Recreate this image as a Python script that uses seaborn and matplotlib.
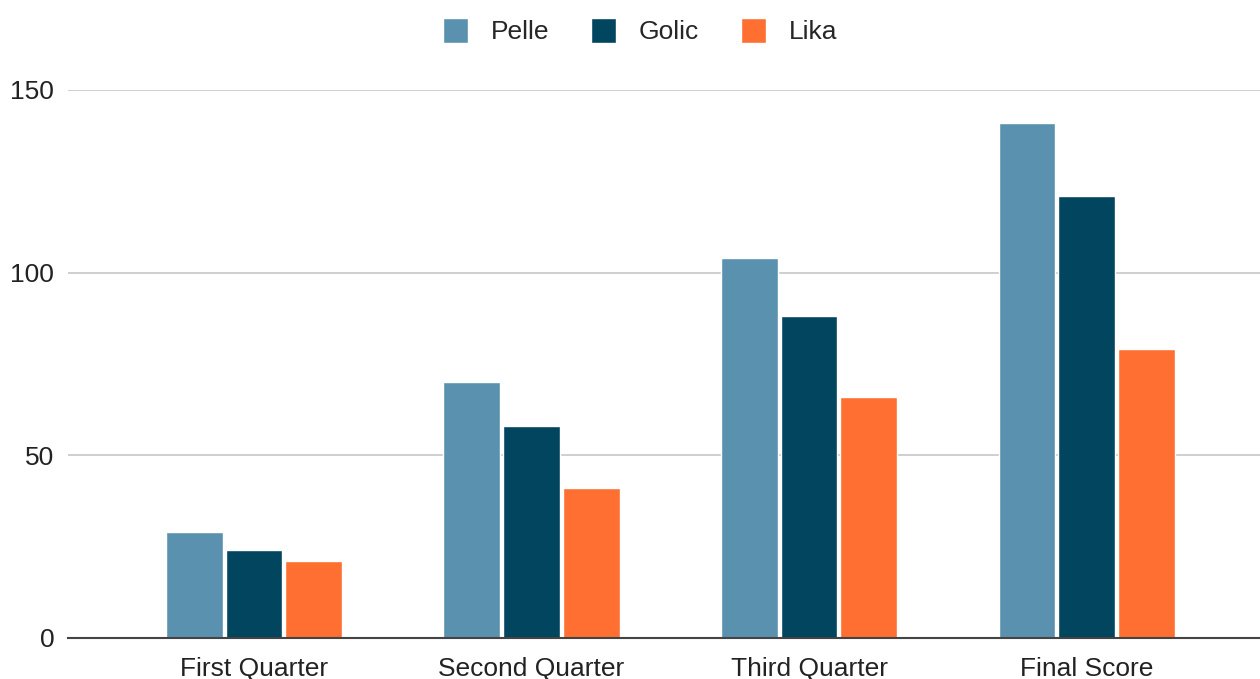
import pandas as pd
import matplotlib.pyplot as plt
import seaborn as sns

# data
categories = ["First Quarter", "Second Quarter", "Third Quarter", "Final Score"]
pelle = [29, 70, 104, 141]
golic = [24, 58, 88, 121]
lika = [21, 41, 66, 79]
players = ["Pelle", "Golic", "Lika"]
colors = ["#5a91af", "#01455f", "#ff6f31"]

df = pd.DataFrame({
    "quarter": categories * 3,
    "player": ["Pelle"] * 4 + ["Golic"] * 4 + ["Lika"] * 4,
    "score": pelle + golic + lika,
})

sns.set_theme(style="white")
plt.rcParams["font.family"] = ["Liberation Sans", "DejaVu Sans"]

fig = plt.figure(figsize=(12.6, 6.79), dpi=100)
ax = fig.add_axes([0.054, 0.0604, 0.946, 0.8071])

sns.barplot(data=df, x="quarter", y="score", hue="player", hue_order=players,
            palette=colors, width=0.645, gap=0.05, saturation=1, ax=ax)

ax.set_ylim(0, 150)
ax.set_xlim(-0.67, 3.625)
ax.set_yticks([0, 50, 100, 150])
ax.grid(axis="y", color="#cccccc", linewidth=1.3)
ax.set_axisbelow(True)
for s in ["top", "right", "left"]:
    ax.spines[s].set_visible(False)
ax.spines["bottom"].set_color("#444444")
ax.spines["bottom"].set_linewidth(1.5)
ax.spines["bottom"].set_zorder(5)
ax.tick_params(axis="both", length=0, labelsize=19, colors="#222222")
ax.tick_params(axis="y", pad=10)
ax.tick_params(axis="x", pad=14)
ax.set_xlabel("")
ax.set_ylabel("")

ax.legend(loc="upper center", bbox_to_anchor=(0.48, 1.175), ncol=3, frameon=False,
          fontsize=19, handlelength=0.95, handleheight=1.1, columnspacing=1.6,
          handletextpad=0.85)

fig.savefig("out.png", dpi=100)
